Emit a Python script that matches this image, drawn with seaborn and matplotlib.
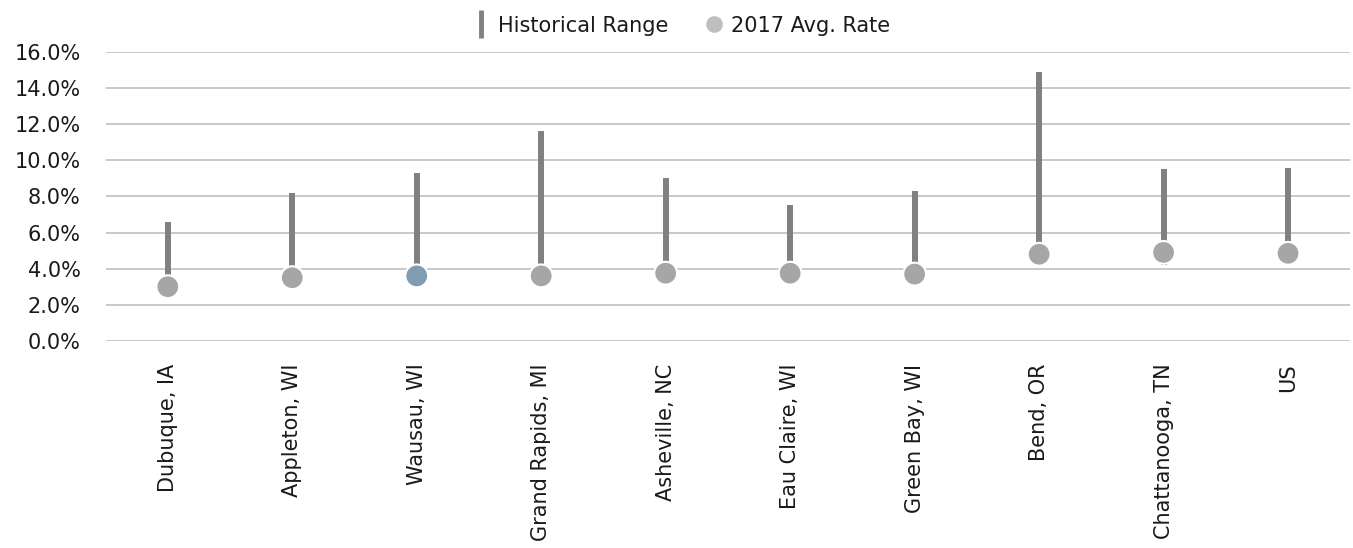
import matplotlib.pyplot as plt
from matplotlib.lines import Line2D
from matplotlib.ticker import PercentFormatter
import seaborn as sns
import pandas as pd

cities = ['Dubuque, IA', 'Appleton, WI', 'Wausau, WI', 'Grand Rapids, MI', 'Asheville, NC',
          'Eau Claire, WI', 'Green Bay, WI', 'Bend, OR', 'Chattanooga, TN', 'US']
rate_2017 = [3.0, 3.5, 3.6, 3.6, 3.75, 3.75, 3.7, 4.8, 4.9, 4.85]
hist_low = [3.0, 3.5, 3.6, 3.6, 3.75, 3.75, 3.7, 4.8, 4.2, 4.85]
hist_high = [6.6, 8.2, 9.3, 11.6, 9.0, 7.5, 8.3, 14.9, 9.5, 9.6]
highlight = 'Wausau, WI'

df = pd.DataFrame({'city': cities, 'rate': rate_2017, 'low': hist_low, 'high': hist_high})
df['pos'] = range(len(df))
df['hl'] = df['city'].eq(highlight).map({True: 'hl', False: 'base'})

sns.set_style('white')
plt.rcParams['font.family'] = ['DejaVu Sans']

fig = plt.figure(figsize=(13.53, 5.48), dpi=100)
ax = fig.add_axes([0.078, 0.377, 0.92, 0.529])

ax.vlines(df['pos'], df['low'], df['high'], color='#808080', linewidth=4.3, zorder=2)
sns.scatterplot(data=df, x='pos', y='rate', hue='hl', palette={'base': '#a6a6a6', 'hl': '#7f9cb0'},
                s=270, edgecolor='white', linewidth=1.5, zorder=3, legend=False, ax=ax)

ax.set_xlim(-0.5, len(cities) - 0.5)
ax.set_ylim(-0.03, 16.03)
ax.set_yticks(range(0, 17, 2))
ax.yaxis.set_major_formatter(PercentFormatter(decimals=1))
ax.yaxis.grid(True, color='#bfbfbf', linewidth=1.2)
ax.set_axisbelow(True)
ax.set_xticks(df['pos'])
ax.set_xticklabels(cities, rotation=90, va='top', ha='center')
ax.tick_params(axis='x', length=0, pad=16, labelsize=15, colors='#1a1a1a')
ax.tick_params(axis='y', length=0, pad=18, labelsize=15, colors='#1a1a1a')
ax.set_xlabel('')
ax.set_ylabel('')
for s in ax.spines.values():
    s.set_visible(False)

handles = [Line2D([], [], color='#808080', marker='|', linestyle='None', markersize=20, markeredgewidth=3.5),
           Line2D([], [], color='#bfbfbf', marker='o', linestyle='None', markersize=11)]
leg = fig.legend(handles, ['Historical Range', '2017 Avg. Rate'], loc='center', bbox_to_anchor=(0.502, 0.953),
                 ncol=2, frameon=False, fontsize=15, handletextpad=0.2, columnspacing=1.6, handlelength=1.2)
for t in leg.get_texts():
    t.set_color('#1a1a1a')

fig.savefig('out.png', dpi=100)
